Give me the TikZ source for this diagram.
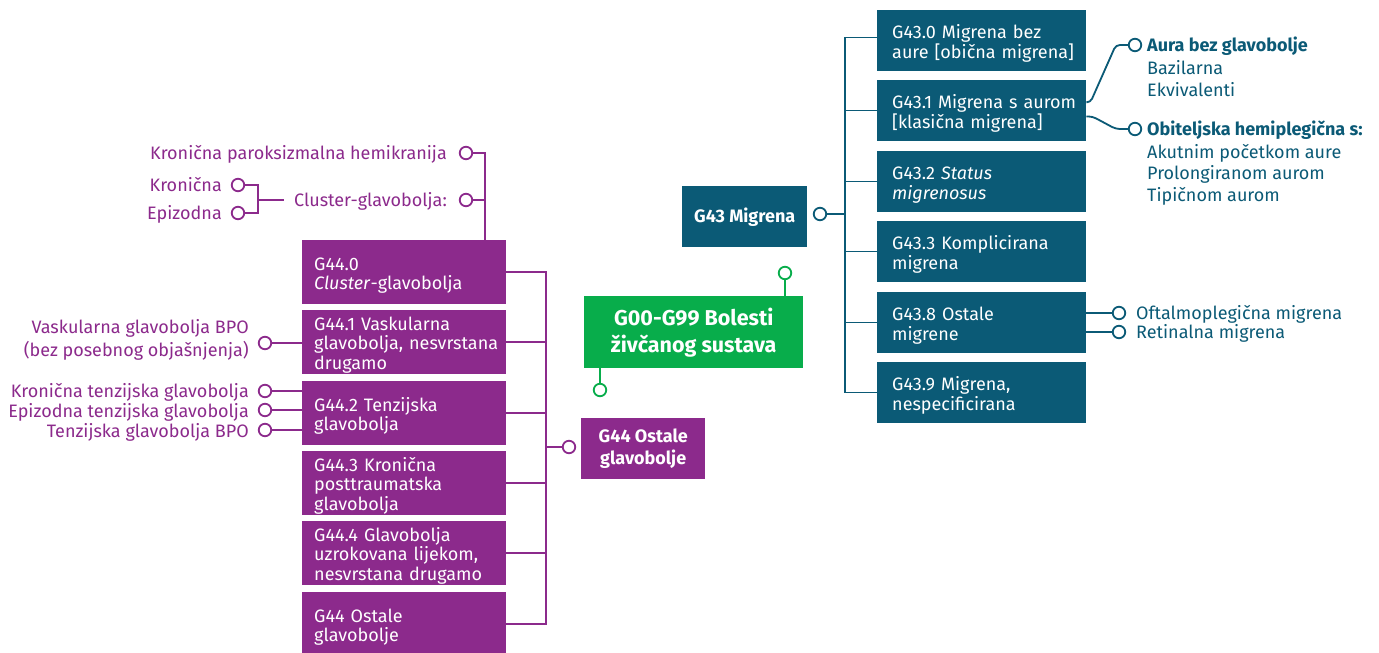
\documentclass[tikz,border=0pt]{standalone}
\usepackage{fontspec}
\setmainfont{Fira Sans}
\definecolor{tealc}{HTML}{0B5A76}
\definecolor{purc}{HTML}{8C2A8C}
\definecolor{grnc}{HTML}{08AD4B}
\begin{document}
\begin{tikzpicture}[x=1pt,y=-1pt,
  fnt/.style={font=\fontsize{18}{19.5}\selectfont},
  cbox/.style={fnt, rectangle, anchor=north west, inner xsep=0pt, inner ysep=0pt, align=left,
    text height=19.5pt, execute at begin node={\leftskip=#1\relax}},
  tbox/.style={cbox=15pt, fill=tealc, text=white, text width=209pt, minimum height=60.5pt},
  pbox/.style={cbox=12pt, fill=purc, text=white, text width=204pt, minimum height=63.5pt},
  bigbox/.style={rectangle, anchor=north west, inner sep=0pt, align=center, text=white,
    font=\fontsize{18}{22}\selectfont\bfseries},
  ring/.style={circle, draw, fill=white, line width=1.8pt, minimum size=12.5pt, inner sep=0pt},
  tring/.style={ring, draw=tealc},
  pring/.style={ring, draw=purc},
  gring/.style={ring, draw=grnc},
  lbl/.style={fnt, inner sep=0pt, text height=12.5pt, text depth=0pt},
  tlbl/.style={lbl, text=tealc, anchor=west},
  plbl/.style={lbl, text=purc, anchor=east},
  tl/.style={draw=tealc, line width=1.8pt},
  pl/.style={draw=purc, line width=1.8pt},
  gl/.style={draw=grnc, line width=1.8pt},
]
\fill[white] (0,0) rectangle (1379,653);
\useasboundingbox (0,0) rectangle (1379,653);

% ---------- teal (G43) ----------
\node[tbox] (t0) at (877,10)  {G43.0 Migrena bez\\aure {[}obična migrena{]}};
\node[tbox] (t1) at (877,80)  {G43.1 Migrena s aurom\\{[}klasična migrena{]}};
\node[tbox] (t2) at (877,151) {G43.2 \textit{Status}\\\textit{migrenosus}};
\node[tbox] (t3) at (877,221) {G43.3 Komplicirana\\migrena};
\node[tbox] (t4) at (877,292) {G43.8 Ostale\\migrene};
\node[tbox] (t5) at (877,362) {G43.9 Migrena,\\nespecificirana};

\node[bigbox, fill=tealc, minimum width=125pt, minimum height=61pt] (g43) at (682,186) {G43 Migrena};
\node[tring] (g43c) at (820,214) {};

\coordinate (tbus) at (845,0);
\draw[tl] ([yshift=3pt]t0.west) -| (t5.west -| tbus) -- (t5.west);
\foreach \n in {t1,t2,t3,t4} \draw[tl] (\n.west) -- (\n.west -| tbus);
\draw[tl] (g43c.east) -- (g43c.east -| tbus);

% right labels
\node[tring] (caura) at (1135,45) {};
\node[tring] (cobi) at (1135,129) {};
\node[tring] (coft) at (1119,313) {};
\node[tring] (cret) at (1119,332) {};
\draw[tl, rounded corners=4pt] ([yshift=8pt]t1.east) -- ++(4,0) -- ([xshift=-12pt]caura.west) -- (caura.west);
\draw[tl, rounded corners=4pt] ([yshift=-6pt]t1.east) -- ++(6,0) -- ([xshift=-12pt]cobi.west) -- (cobi.west);
\draw[tl] (coft.west) -- (coft.west -| t4.east);
\draw[tl] (cret.west) -- (cret.west -| t4.east);

\node[tlbl, font=\fontsize{18}{19.5}\selectfont\bfseries] (laura) at (1147,45) {Aura bez glavobolje};
\node[tlbl] (lbaz) at (1147,68) {Bazilarna};
\node[tlbl] (lekv) at (1147,90) {Ekvivalenti};
\node[tlbl, font=\fontsize{18}{19.5}\selectfont\bfseries] (lobi) at (1147,129) {Obiteljska hemiplegična s:};
\node[tlbl] (lak) at (1147,152) {Akutnim početkom aure};
\node[tlbl] (lpro) at (1147,173) {Prolongiranom aurom};
\node[tlbl] (ltip) at (1147,195) {Tipičnom aurom};
\node[tlbl] (loft) at (1136,313) {Oftalmoplegična migrena};
\node[tlbl] (lret) at (1136,332) {Retinalna migrena};

% ---------- green ----------
\node[bigbox, fill=grnc, minimum width=219pt, minimum height=72pt,
  font=\fontsize{21.5}{27}\selectfont\bfseries] (gr) at (584,296) {G00-G99 Bolesti\\živčanog sustava};
\node[gring] (gc1) at (785,273) {};
\node[gring] (gc2) at (600,390) {};
\draw[gl] (gc1) -- (gc1 |- gr.north);
\draw[gl] (gc2) -- (gc2 |- gr.south);

% ---------- purple (G44) ----------
\node[pbox] (p0) at (302,240) {G44.0\\\textit{Cluster}-glavobolja};
\node[pbox] (p1) at (302,310) {G44.1 Vaskularna\\glavobolja, nesvrstana\\drugamo};
\node[pbox] (p2) at (302,381) {G44.2 Tenzijska\\glavobolja};
\node[pbox] (p3) at (302,451) {G44.3 Kronična\\posttraumatska\\glavobolja};
\node[pbox] (p4) at (302,521) {G44.4 Glavobolja\\uzrokovana lijekom,\\nesvrstana drugamo};
\node[pbox] (p5) at (302,592) {G44 Ostale\\glavobolje};

\node[bigbox, fill=purc, minimum width=124pt, minimum height=61pt] (g44) at (581,418) {G44 Ostale\\glavobolje};
\node[pring] (g44c) at (569,447) {};

\coordinate (pbus) at (546,0);
\draw[pl] (p0.east) -| (p5.east -| pbus) -- (p5.east);
\foreach \n in {p1,p2,p3,p4} \draw[pl] (\n.east) -- (\n.east -| pbus);
\draw[pl] (g44c.west) -- (g44c.west -| pbus);

% left labels
\node[pring] (ckph) at (466,153) {};
\node[pring] (ccl) at (466,200) {};
\node[pring] (ckr) at (238,185) {};
\node[pring] (cep) at (238,213) {};
\node[pring] (cvk) at (265,343) {};
\node[pring] (ckt) at (265,391) {};
\node[pring] (cet) at (265,410) {};
\node[pring] (ctb) at (265,430) {};

\node[plbl] (lkph) at (447,153) {Kronična paroksizmalna hemikranija};
\node[plbl] (lcl) at (447,200) {Cluster-glavobolja:};
\node[plbl] (lkr) at (222,185) {Kronična};
\node[plbl] (lep) at (222,213) {Epizodna};
\node[plbl] (lvk1) at (249,327) {Vaskularna glavobolja BPO};
\node[plbl] (lvk2) at (249,350) {(bez posebnog objašnjenja)};
\node[plbl] (lkt) at (249,391) {Kronična tenzijska glavobolja};
\node[plbl] (let) at (249,411) {Epizodna tenzijska glavobolja};
\node[plbl] (ltb) at (249,431) {Tenzijska glavobolja BPO};

\coordinate (pj) at (485,0);
\draw[pl] (ckph.east) -| (p0.north -| pj);
\draw[pl] (ccl.east) -- (ccl.east -| pj);
\coordinate (brk) at (258,200);
\draw[pl] (ckr.east) -| (cep.east -| brk) -- (cep.east);
\draw[pl] (brk) -- ([xshift=-10pt]lcl.west);
\draw[pl] (cvk.east) -- (cvk.east -| p1.west);
\draw[pl] (ckt.east) -- (ckt.east -| p2.west);
\draw[pl] (cet.east) -- (cet.east -| p2.west);
\draw[pl] (ctb.east) -- (ctb.east -| p2.west);
\end{tikzpicture}
\end{document}
